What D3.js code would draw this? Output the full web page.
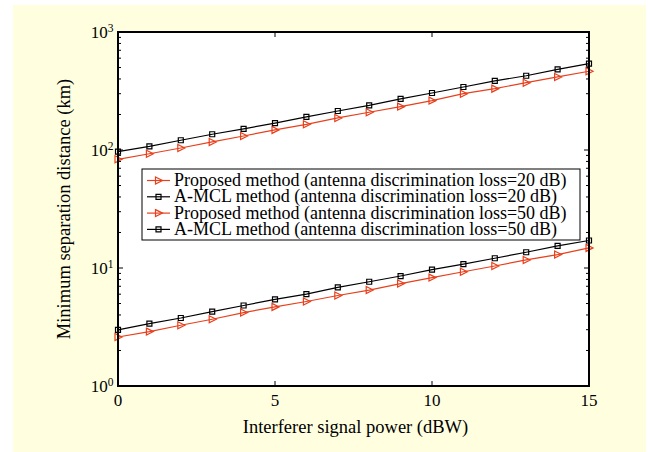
<!DOCTYPE html>
<html>
<head>
<meta charset="utf-8">
<script src="https://cdn.jsdelivr.net/npm/d3@7"></script>
<style>
  body { margin: 0; background: #fff; }
  text { font-family: "Liberation Serif", "Times New Roman", serif; fill: #000; }
</style>
</head>
<body>
<div id="chart"></div>
<script>
var power = [0, 1, 2, 3, 4, 5, 6, 7, 8, 9, 10, 11, 12, 13, 14, 15];

var proposed20 = [83.4, 93, 104, 117, 131.5, 148, 165, 187, 209, 233, 262, 300, 331, 372, 416, 465];
var amcl20 = [97, 107.5, 121, 136, 151, 169, 190.6, 214, 239, 271, 304, 342, 385, 426, 483, 540];
var proposed50 = [2.6, 2.89, 3.27, 3.68, 4.19, 4.68, 5.2, 5.85, 6.5, 7.38, 8.29, 9.3, 10.4, 11.7, 13.0, 14.8];
var amcl50 = [2.99, 3.38, 3.77, 4.27, 4.81, 5.42, 6.0, 6.85, 7.65, 8.55, 9.68, 10.8, 12.1, 13.6, 15.4, 17.1];

var legendLabels = [
  "Proposed method (antenna discrimination loss=20 dB)",
  "A-MCL method (antenna discrimination loss=20 dB)",
  "Proposed method (antenna discrimination loss=50 dB)",
  "A-MCL method (antenna discrimination loss=50 dB)"
];
var xTicks = [0, 5, 10, 15];
var yDecades = [1, 10, 100, 1000];

var series = [
  {values: proposed20, color: "#e8401c", marker: "tri"},
  {values: amcl20, color: "#000000", marker: "sq"},
  {values: proposed50, color: "#e8401c", marker: "tri"},
  {values: amcl50, color: "#000000", marker: "sq"}
];

var width = 649, height = 452;
var margin = {top: 32, right: 60, bottom: 66, left: 118};

var svg = d3.select("#chart").append("svg")
    .attr("width", width)
    .attr("height", height);

svg.append("rect")
    .attr("x", 13).attr("y", 5)
    .attr("width", 633).attr("height", 447)
    .attr("fill", "#ffffe0");

var w = width - margin.left - margin.right;
var h = height - margin.top - margin.bottom;

var g = svg.append("g")
    .attr("transform", "translate(" + margin.left + "," + margin.top + ")");

var x = d3.scaleLinear().domain([0, 15]).range([0, w]);
var y = d3.scaleLog().domain([1, 1000]).range([h, 0]);

g.append("rect")
    .attr("width", w).attr("height", h)
    .attr("fill", "#fff");

// minor log ticks
var minor = [];
[1, 10, 100].forEach(function (d) {
  for (var k = 2; k <= 9; k++) minor.push(d * k);
});

var tg = g.append("g").attr("stroke", "#000").attr("stroke-width", 1);
function tickLines(vals, isY, len) {
  vals.forEach(function (v) {
    if (isY) {
      tg.append("line").attr("x1", 0).attr("x2", len).attr("y1", y(v)).attr("y2", y(v));
      tg.append("line").attr("x1", w).attr("x2", w - len).attr("y1", y(v)).attr("y2", y(v));
    } else {
      tg.append("line").attr("x1", x(v)).attr("x2", x(v)).attr("y1", h).attr("y2", h - len);
      tg.append("line").attr("x1", x(v)).attr("x2", x(v)).attr("y1", 0).attr("y2", len);
    }
  });
}
tickLines(minor, true, 3);
tickLines(yDecades, true, 5);
tickLines(xTicks, false, 5);

// lines and markers
var line = d3.line()
    .x(function (d, i) { return x(power[i]); })
    .y(function (d) { return y(d); });

function markerPath(m) {
  return m === "tri" ? "M-3,-3.5L4,0L-3,3.5Z" : "M-2.5,-2.5H2.5V2.5H-2.5Z";
}

series.forEach(function (s) {
  g.append("path")
      .datum(s.values)
      .attr("fill", "none")
      .attr("stroke", s.color)
      .attr("stroke-width", 1.2)
      .attr("d", line);

  g.selectAll(null)
      .data(s.values)
      .enter()
      .append("path")
      .attr("transform", function (d, i) { return "translate(" + x(power[i]) + "," + y(d) + ")"; })
      .attr("d", markerPath(s.marker))
      .attr("fill", "none")
      .attr("stroke", s.color)
      .attr("stroke-width", 1.2);
});

// frame
g.append("rect")
    .attr("width", w).attr("height", h)
    .attr("fill", "none")
    .attr("stroke", "#000")
    .attr("stroke-width", 2);

// x tick labels
g.selectAll(".xl")
    .data(xTicks)
    .enter()
    .append("text")
    .attr("x", function (d) { return x(d); })
    .attr("y", h + 20)
    .attr("text-anchor", "middle")
    .style("font-size", "17px")
    .text(function (d) { return d; });

// y tick labels 10^n
var yl = g.selectAll(".yl")
    .data(yDecades)
    .enter()
    .append("text")
    .attr("x", -4.5)
    .attr("y", function (d) { return y(d) + 5.5; })
    .attr("text-anchor", "end")
    .style("font-size", "17px");
yl.append("tspan").text("10");
yl.append("tspan")
    .attr("dy", -6)
    .style("font-size", "11.5px")
    .text(function (d) { return Math.round(Math.log10(d)); });

// axis titles
g.append("text")
    .attr("x", w / 2 + 2)
    .attr("y", h + 47)
    .attr("text-anchor", "middle")
    .style("font-size", "18.5px")
    .text("Interferer signal power (dBW)");

g.append("text")
    .attr("transform", "translate(-48," + (h / 2) + ") rotate(-90)")
    .attr("text-anchor", "middle")
    .style("font-size", "18.5px")
    .text("Minimum separation distance (km)");

// legend
var lg = g.append("g").attr("transform", "translate(24,137)");
lg.append("rect")
    .attr("width", 438).attr("height", 71)
    .attr("fill", "#fff")
    .attr("stroke", "#000")
    .attr("stroke-width", 1);

series.forEach(function (s, i) {
  var yy = 11.5 + i * 16.3;
  lg.append("line")
      .attr("x1", 5).attr("x2", 28)
      .attr("y1", yy).attr("y2", yy)
      .attr("stroke", s.color)
      .attr("stroke-width", 1.2);
  lg.append("path")
      .attr("transform", "translate(16.5," + yy + ")")
      .attr("d", markerPath(s.marker))
      .attr("fill", "none")
      .attr("stroke", s.color)
      .attr("stroke-width", 1.2);
  lg.append("text")
      .attr("x", 32)
      .attr("y", yy + 5.5)
      .style("font-size", "18px")
      .text(legendLabels[i]);
});
</script>
</body>
</html>
